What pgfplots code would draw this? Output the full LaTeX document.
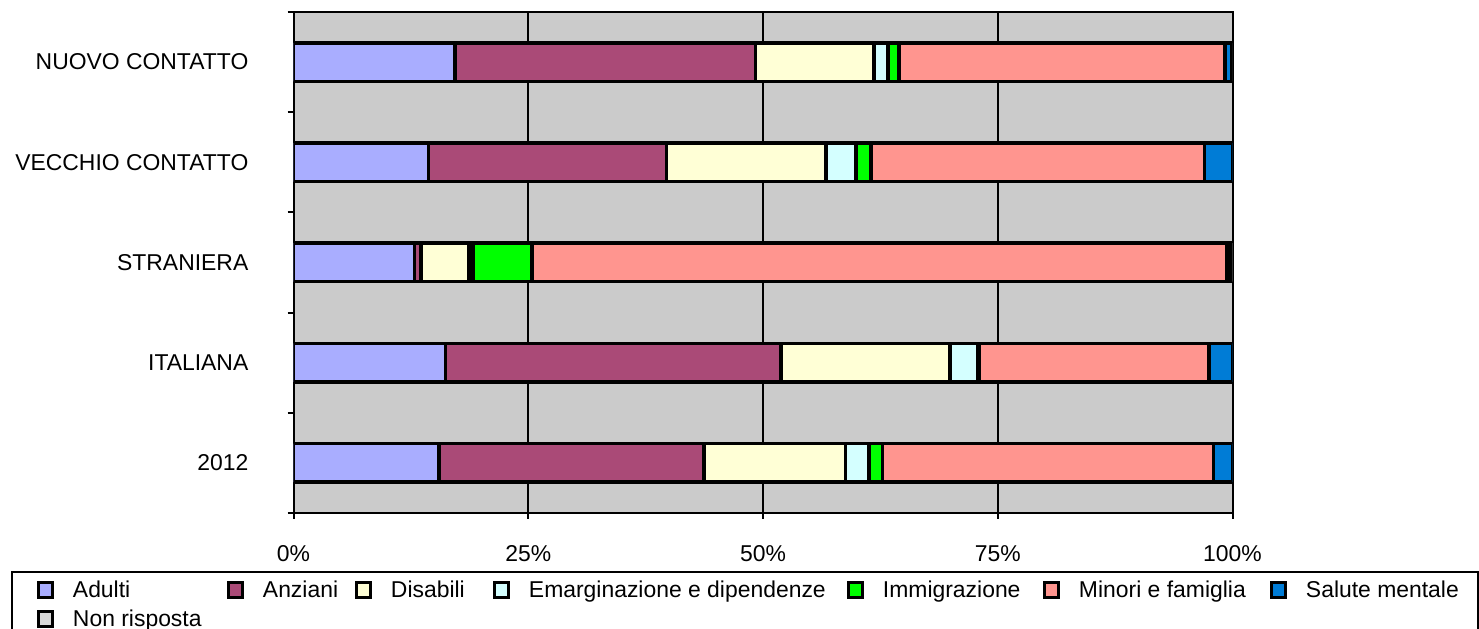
\documentclass[border=0pt]{standalone}
\usepackage{fontspec}
\setmainfont{Liberation Sans}
\usepackage{pgfplots}
\usepackage{pgfplotstable}
\pgfplotsset{compat=1.18}
\definecolor{cAdulti}{HTML}{A9ADFF}
\definecolor{cAnziani}{HTML}{AA4A77}
\definecolor{cDisabili}{HTML}{FFFFD6}
\definecolor{cEmarg}{HTML}{D4FFFF}
\definecolor{cImmig}{HTML}{00FF00}
\definecolor{cMinori}{HTML}{FF958F}
\definecolor{cSalute}{HTML}{007CD6}
\definecolor{cNonris}{HTML}{D9D9D9}
\definecolor{cBg}{HTML}{CBCBCB}

\pgfplotstableread{
idx adulti anziani disabili emarg immig minori salute nonris
0 15.5 28.2 15.1 2.5 1.4 35.3 2.0 0.0
1 16.2 35.7 18.0 3.0 0.1 24.5 2.5 0.0
2 12.9 0.7 5.1 0.4 6.3 74.0 0.3 0.3
3 14.4 25.3 17.0 3.2 1.6 35.5 3.0 0.0
4 17.2 32.0 12.6 1.5 1.2 34.7 0.7 0.1
}\datatable

\newcommand{\chartfont}{\fontsize{23}{27}\selectfont}

\pgfplotsset{
  mylegend/.style={legend image code/.code={
    \draw[##1, line width=3bp] (1.5bp,-5.5bp) rectangle (15.5bp,10bp);
    \path[draw=none, fill=none] (0bp,0bp) -- (36bp,0bp);
  }},
}

\begin{document}
\begin{tikzpicture}[x=1bp,y=1bp]
\useasboundingbox (0,0) rectangle (1479,629);
\begin{axis}[
  at={(293.5bp,116bp)}, anchor=south west,
  scale only axis, width=939bp, height=501bp,
  xbar stacked, bar width=38.5bp,
  xmin=0, xmax=100, ymin=-0.5, ymax=4.5,
  axis background/.style={fill=cBg},
  axis line style={line width=2bp},
  xtick={0,25,50,75,100},
  xticklabels={0\%,25\%,50\%,75\%,100\%},
  ytick={-0.5,0.5,1.5,2.5,3.5,4.5},
  yticklabels={2012,ITALIANA,STRANIERA,VECCHIO CONTATTO,NUOVO CONTATTO,{}},
  xtick pos=bottom, ytick pos=left,
  tick align=outside, major tick length=6bp,
  tick style={black, line width=2bp},
  xmajorgrids=true,
  major grid style={black, line width=2bp},
  xticklabel style={font=\chartfont, inner sep=0pt, anchor=north, yshift=-26bp},
  yticklabel style={font=\chartfont, inner sep=0pt, anchor=east, xshift=-39bp, yshift=50.1bp},
  legend columns=7,
  legend style={at={(-0.2732,-0.1357)}, anchor=north west, draw=none, fill=none,
    inner sep=0pt, outer sep=0pt, font=\chartfont,
    nodes={inner sep=0pt, text height=16bp, text depth=5bp},
    row sep=7bp, column sep=0pt},
  legend cell align=left,
]
\addplot[fill=cAdulti, draw=black, line width=3.5bp, mylegend] table[x=adulti,y=idx]{\datatable};
\addlegendentry{\makebox[154bp][l]{Adulti}}
\addplot[fill=cAnziani, draw=black, line width=3.5bp, mylegend] table[x=anziani,y=idx]{\datatable};
\addlegendentry{\makebox[92bp][l]{Anziani}}
\addplot[fill=cDisabili, draw=black, line width=3.5bp, mylegend] table[x=disabili,y=idx]{\datatable};
\addlegendentry{\makebox[102bp][l]{Disabili}}
\addplot[fill=cEmarg, draw=black, line width=3.5bp, mylegend] table[x=emarg,y=idx]{\datatable};
\addlegendentry{\makebox[318bp][l]{Emarginazione e dipendenze}}
\addplot[fill=cImmig, draw=black, line width=3.5bp, mylegend] table[x=immig,y=idx]{\datatable};
\addlegendentry{\makebox[160bp][l]{Immigrazione}}
\addplot[fill=cMinori, draw=black, line width=3.5bp, mylegend] table[x=minori,y=idx]{\datatable};
\addlegendentry{\makebox[191bp][l]{Minori e famiglia}}
\addplot[fill=cSalute, draw=black, line width=3.5bp, mylegend] table[x=salute,y=idx]{\datatable};
\addlegendentry{\makebox[160bp][l]{Salute mentale}}
\addplot[fill=cNonris, draw=black, line width=3.5bp, mylegend] table[x=nonris,y=idx]{\datatable};
\addlegendentry{\makebox[154bp][l]{Non risposta}}
\end{axis}
\draw[line width=2bp] (12,57) rectangle (1478,-5);
\end{tikzpicture}
\end{document}
